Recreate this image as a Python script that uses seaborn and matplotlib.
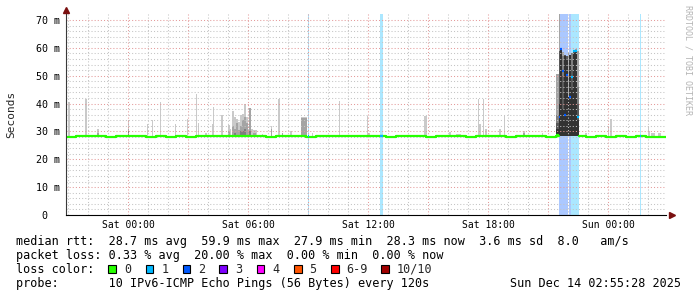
import numpy as np
import pandas as pd
import matplotlib
matplotlib.use("Agg")
import matplotlib.pyplot as plt
from matplotlib.patches import Rectangle
import seaborn as sns

# ---------------- data (time in hours relative to Sat 00:00) ----------------
t_start, t_end = -3.08, 26.92
block_h = 0.5
# median rtt (ms), one value per 30 minutes starting at t_start
median_blocks = [27.9, 28.3, 28.4, 28.3, 28.0, 28.3, 28.4, 28.3, 28.0, 28.2,
                 28.0, 28.3, 28.1, 28.4, 28.3, 28.4, 28.3, 28.5, 28.4, 28.3,
                 27.9, 28.3, 28.3, 28.4, 28.0, 28.3, 28.3, 28.4, 28.3, 28.3,
                 28.3, 28.2, 27.9, 28.3, 28.3, 28.4, 27.9, 28.3, 28.3, 28.4,
                 27.9, 28.3, 28.4, 28.3, 27.9, 28.3, 28.3, 28.4, 27.9, 28.3,
                 28.3, 28.3, 27.9, 28.3, 28.0, 28.3, 27.9, 28.2, 28.0, 28.1]

# smoke spikes: start hour, duration (min), band tops in ms (outer -> inner)
smoke_base_ms = 28.0
spike_start_h = [-2.98, -2.15, -1.55, 0.00, 0.95, 1.20, 1.60, 2.35, 2.95, 3.40,
                 3.48, 3.85, 4.20, 4.25, 4.67, 5.00, 5.10, 5.18, 5.28, 5.38,
                 5.48, 5.58, 5.68, 5.78, 5.88, 5.98, 6.03, 6.13, 6.25, 6.40,
                 6.70, 7.15, 7.48, 7.70, 8.08, 8.67, 9.20, 10.55, 11.95, 12.00,
                 14.82, 16.05, 16.40, 17.48, 17.55, 17.75, 17.83, 18.53, 18.80, 19.73,
                 20.70, 22.83, 24.00, 24.08, 25.98, 26.03, 26.15, 26.50]
spike_minutes = [6, 6, 6, 3, 3, 3, 4, 3, 3, 4,
                 3, 6, 3, 4, 6, 6, 3, 6, 6, 6,
                 6, 6, 6, 6, 6, 3, 6, 6, 9, 3,
                 3, 3, 6, 3, 6, 18, 3, 4, 4, 6,
                 9, 6, 15, 4, 6, 4, 6, 6, 4, 6,
                 3, 6, 3, 6, 4, 3, 12, 9]
spike_tops = [[40.6], [41.5], [31.0, 29.5], [34.0, 31.0, 30.0], [32.5], [34.0], [40.7],
              [32.5], [34.5], [43.3], [33.0], [29.5], [32.5], [38.7], [35.8],
              [32.3, 30.0], [31.0], [37.4, 32.0], [35.3, 31.0, 29.5], [34.3, 33.0],
              [33.5, 30.5], [35.9, 32.0, 30.0], [36.3, 34.0, 30.0], [39.7, 35.0, 31.0],
              [35.3, 33.0], [31.0, 30.0], [38.3, 38.3, 30.0], [30.8], [30.5, 29.5],
              [30.5], [29.2], [32.0, 31.0], [41.5], [29.5, 29.5], [30.0], [35.0, 34.8],
              [29.5], [41.0], [35.5], [29.5], [35.5], [29.7], [29.2], [41.5], [32.5],
              [41.5], [31.0], [31.0], [36.0], [30.0, 29.5], [29.5], [29.5], [32.0],
              [34.5], [32.0], [30.0], [29.3], [29.5]]

# isolated packet-loss steps
loss_start_h = [9.00, 12.60, 25.60]
loss_minutes = [3, 9, 3]
loss_count = [1, 1, 1]
loss_median = [28.3, 28.3, 28.2]

# disturbance around Sat 21:30 - 22:30
region_base_ms = 28.4
region_start_h = [21.40, 21.55, 21.60, 21.70, 21.80, 21.90, 22.00, 22.05, 22.15, 22.25, 22.35, 22.45]
region_minutes = [9, 3, 6, 6, 6, 6, 3, 6, 6, 6, 6, 6]
region_tops = [[50.5, 50.5, 36.0, 33.0, 31.0],
               [72.5, 72.5, 59.0, 59.0, 40.0],
               [60.0, 59.5, 59.5, 59.5, 59.5],
               [58.5, 58.5, 57.0, 50.0, 38.0],
               [57.5, 57.5, 57.5, 57.5, 57.0],
               [57.0, 57.0, 57.0, 57.0, 56.0],
               [58.0, 58.0, 42.5, 42.5, 42.5],
               [57.5, 57.5, 57.5, 57.5, 57.5],
               [58.0, 58.0, 58.0, 52.0, 45.0],
               [59.0, 59.0, 59.0, 59.0, 58.0],
               [59.5, 59.5, 59.0, 59.0, 59.0],
               [59.0, 59.0, 46.0, 40.0, 34.0]]
region_median = [28.6, 35.3, 59.5, 51.5, 35.9, 50.2, np.nan, 42.5, 49.6, 58.9, 58.9, 35.3]
region_loss = [0, 2, 2, 2, 2, 2, 0, 2, 1, 1, 1, 1]

x_tick_hours = [0, 6, 12, 18, 24]
x_tick_labels = ["Sat 00:00", "Sat 06:00", "Sat 12:00", "Sat 18:00", "Sun 00:00"]
y_ticks = [0, 10, 20, 30, 40, 50, 60, 70]
y_tick_labels = ["0  ", "10 m", "20 m", "30 m", "40 m", "50 m", "60 m", "70 m"]

loss_colors = ["#26ff00", "#00b8ff", "#0059ff", "#7e00ff", "#ff00ff", "#ff5500", "#ff0000", "#a10000"]
loss_labels = ["0", "1", "2", "3", "4", "5", "6-9", "10/10"]
shades = ["#cacaca", "#a4a4a4", "#7e7e7e", "#585858", "#323232"]

legend_lines = [
    "median rtt:  28.7 ms avg  59.9 ms max  27.9 ms min  28.3 ms now  3.6 ms sd  8.0   am/s",
    "packet loss: 0.33 % avg  20.00 % max  0.00 % min  0.00 % now",
    "loss color:",
    "probe:       10 IPv6-ICMP Echo Pings (56 Bytes) every 120s",
]
date_text = "Sun Dec 14 02:55:28 2025"

# ---------------- styling ----------------
sns.set_theme(style="white")
plt.rcParams['font.family'] = ['DejaVu Sans Mono', 'DejaVu Sans']

W, H = 697, 297
y_top = 72.1
fig = plt.figure(figsize=(W / 100, H / 100), dpi=100)
fig.patch.set_facecolor("white")
ax = fig.add_axes([66.4 / W, 82 / H, 600 / W, 200.9 / H])
ax.set_facecolor("white")
ax.set_xlim(t_start, t_end)
ax.set_ylim(0, y_top)

# loss background bars
all_loss_start = loss_start_h + [s for s, l in zip(region_start_h, region_loss) if l > 0]
all_loss_min = loss_minutes + [m for m, l in zip(region_minutes, region_loss) if l > 0]
all_loss_cnt = loss_count + [l for l in region_loss if l > 0]
ax.bar(all_loss_start, y_top, width=np.array(all_loss_min) / 60.0, bottom=0, align="edge",
       color=[loss_colors[c] for c in all_loss_cnt], alpha=0.33, linewidth=0, zorder=0.5)

# smoke
rows = []
for s, m, tops in zip(spike_start_h, spike_minutes, spike_tops):
    for k, tp in enumerate(tops):
        rows.append((s, m / 60.0, smoke_base_ms, tp, k))
for s, m, tops in zip(region_start_h, region_minutes, region_tops):
    for k, tp in enumerate(tops):
        rows.append((s, m / 60.0, region_base_ms, tp, k))
smoke = pd.DataFrame(rows, columns=["start", "width", "base", "top", "band"])
for k in range(len(shades)):
    sub = smoke[smoke.band == k]
    if len(sub):
        ax.bar(sub.start, sub.top - sub.base, width=sub.width, bottom=sub.base, align="edge",
               color=shades[k], linewidth=0, zorder=0.8)

# median line (green, no loss)
gap_cols = [i for i, l in enumerate(region_loss) if l > 0]
gap_a = region_start_h[gap_cols[0]]
gap_b = region_start_h[gap_cols[-1]] + region_minutes[gap_cols[-1]] / 60.0
edges = t_start + block_h * np.arange(len(median_blocks) + 1)


def val_at(t):
    i = int(np.clip((t - t_start) // block_h, 0, len(median_blocks) - 1))
    return median_blocks[i]


def segment(a, b, sid):
    xs = [a] + [e for e in edges if a < e < b] + [b]
    ys = [val_at(x) for x in xs[:-1]] + [val_at(b - 1e-6)]
    return pd.DataFrame({"hour": xs, "rtt": ys, "seg": sid})


med = pd.concat([segment(t_start, gap_a, 0), segment(gap_b, t_end, 1)], ignore_index=True)
sns.lineplot(data=med, x="hour", y="rtt", units="seg", estimator=None, color="#26ff00",
             drawstyle="steps-post", linewidth=1.6, ax=ax, legend=False, zorder=2)

# median during loss steps, coloured by loss
for s, m, c, v in zip(loss_start_h, loss_minutes, loss_count, loss_median):
    ax.hlines(v, s, s + m / 60.0, color=loss_colors[c], linewidth=1.6, zorder=2.5)
for s, m, c, v in zip(region_start_h, region_minutes, region_loss, region_median):
    if not np.isnan(v):
        ax.hlines(v, s, s + m / 60.0, color=loss_colors[c], linewidth=1.6, zorder=2.5)

# grid
major_x = [0, 3, 6, 9, 12, 15, 18, 21, 24]
ax.set_xticks(major_x)
ax.set_xticklabels([x_tick_labels[x_tick_hours.index(h)] if h in x_tick_hours else ""
                    for h in major_x])
ax.set_xticks(np.arange(-3, 27, 1), minor=True)
ax.set_yticks(y_ticks)
ax.set_yticklabels(y_tick_labels)
ax.set_yticks(np.arange(0, 72, 2), minor=True)
ax.set_axisbelow("line")
ax.grid(which="major", color="#e49a9a", linestyle=(0, (1, 2)), linewidth=0.75)
ax.grid(which="minor", color="#c4c4c4", linestyle=(0, (1, 2)), linewidth=0.75)
ax.tick_params(which="both", length=0)
ax.tick_params(axis="x", pad=3.5, labelsize=7, colors="#000000")
ax.tick_params(axis="y", pad=4.3, labelsize=7.2, colors="#000000")
ax.set_xlabel("")
ax.set_ylabel("")
for side in ["top", "right"]:
    ax.spines[side].set_visible(False)
ax.spines["left"].set_color("#3a3a3a")
ax.spines["bottom"].set_color("#000000")
ax.spines["left"].set_linewidth(0.8)
ax.spines["bottom"].set_linewidth(0.8)
ax.plot([0], [1.02], marker="^", transform=ax.transAxes, clip_on=False, color="#7a1010",
        markersize=4.5, zorder=6)
ax.plot([1.009], [0], marker=">", transform=ax.transAxes, clip_on=False, color="#7a1010",
        markersize=4.5, zorder=6)

# texts
fig.text(11 / W, 1 - 114 / H, "Seconds", rotation=90, ha="center", va="center", fontsize=8)
fig.text(688 / W, 1 - 5 / H, "RRDTOOL / TOBI OETIKER", rotation=270, ha="center", va="top",
         fontsize=6, color="#b4b4b4")
line_y = [241.7, 255.3, 269.3, 283.5]
for txt, yy in zip(legend_lines, line_y):
    fig.text(16 / W, 1 - yy / H, txt, ha="left", va="center", fontsize=8.5, color="#000000")
fig.text(681 / W, 1 - line_y[3] / H, date_text, ha="right", va="center", fontsize=8.5, color="#000000")

sq_x = [108.3, 145.7, 182.7, 219.3, 256.7, 294.0, 331.0, 381.0]
sq = 7.7
for xx, col, lab in zip(sq_x, loss_colors, loss_labels):
    fig.add_artist(Rectangle((xx / W, 1 - (line_y[2] + sq / 2) / H), sq / W, sq / H,
                             transform=fig.transFigure, facecolor=col, edgecolor="black",
                             linewidth=0.8))
    fig.text((xx + 15.5) / W, 1 - line_y[2] / H, lab, ha="left", va="center", fontsize=8.5)

fig.savefig("out.png", dpi=100, facecolor="white")
